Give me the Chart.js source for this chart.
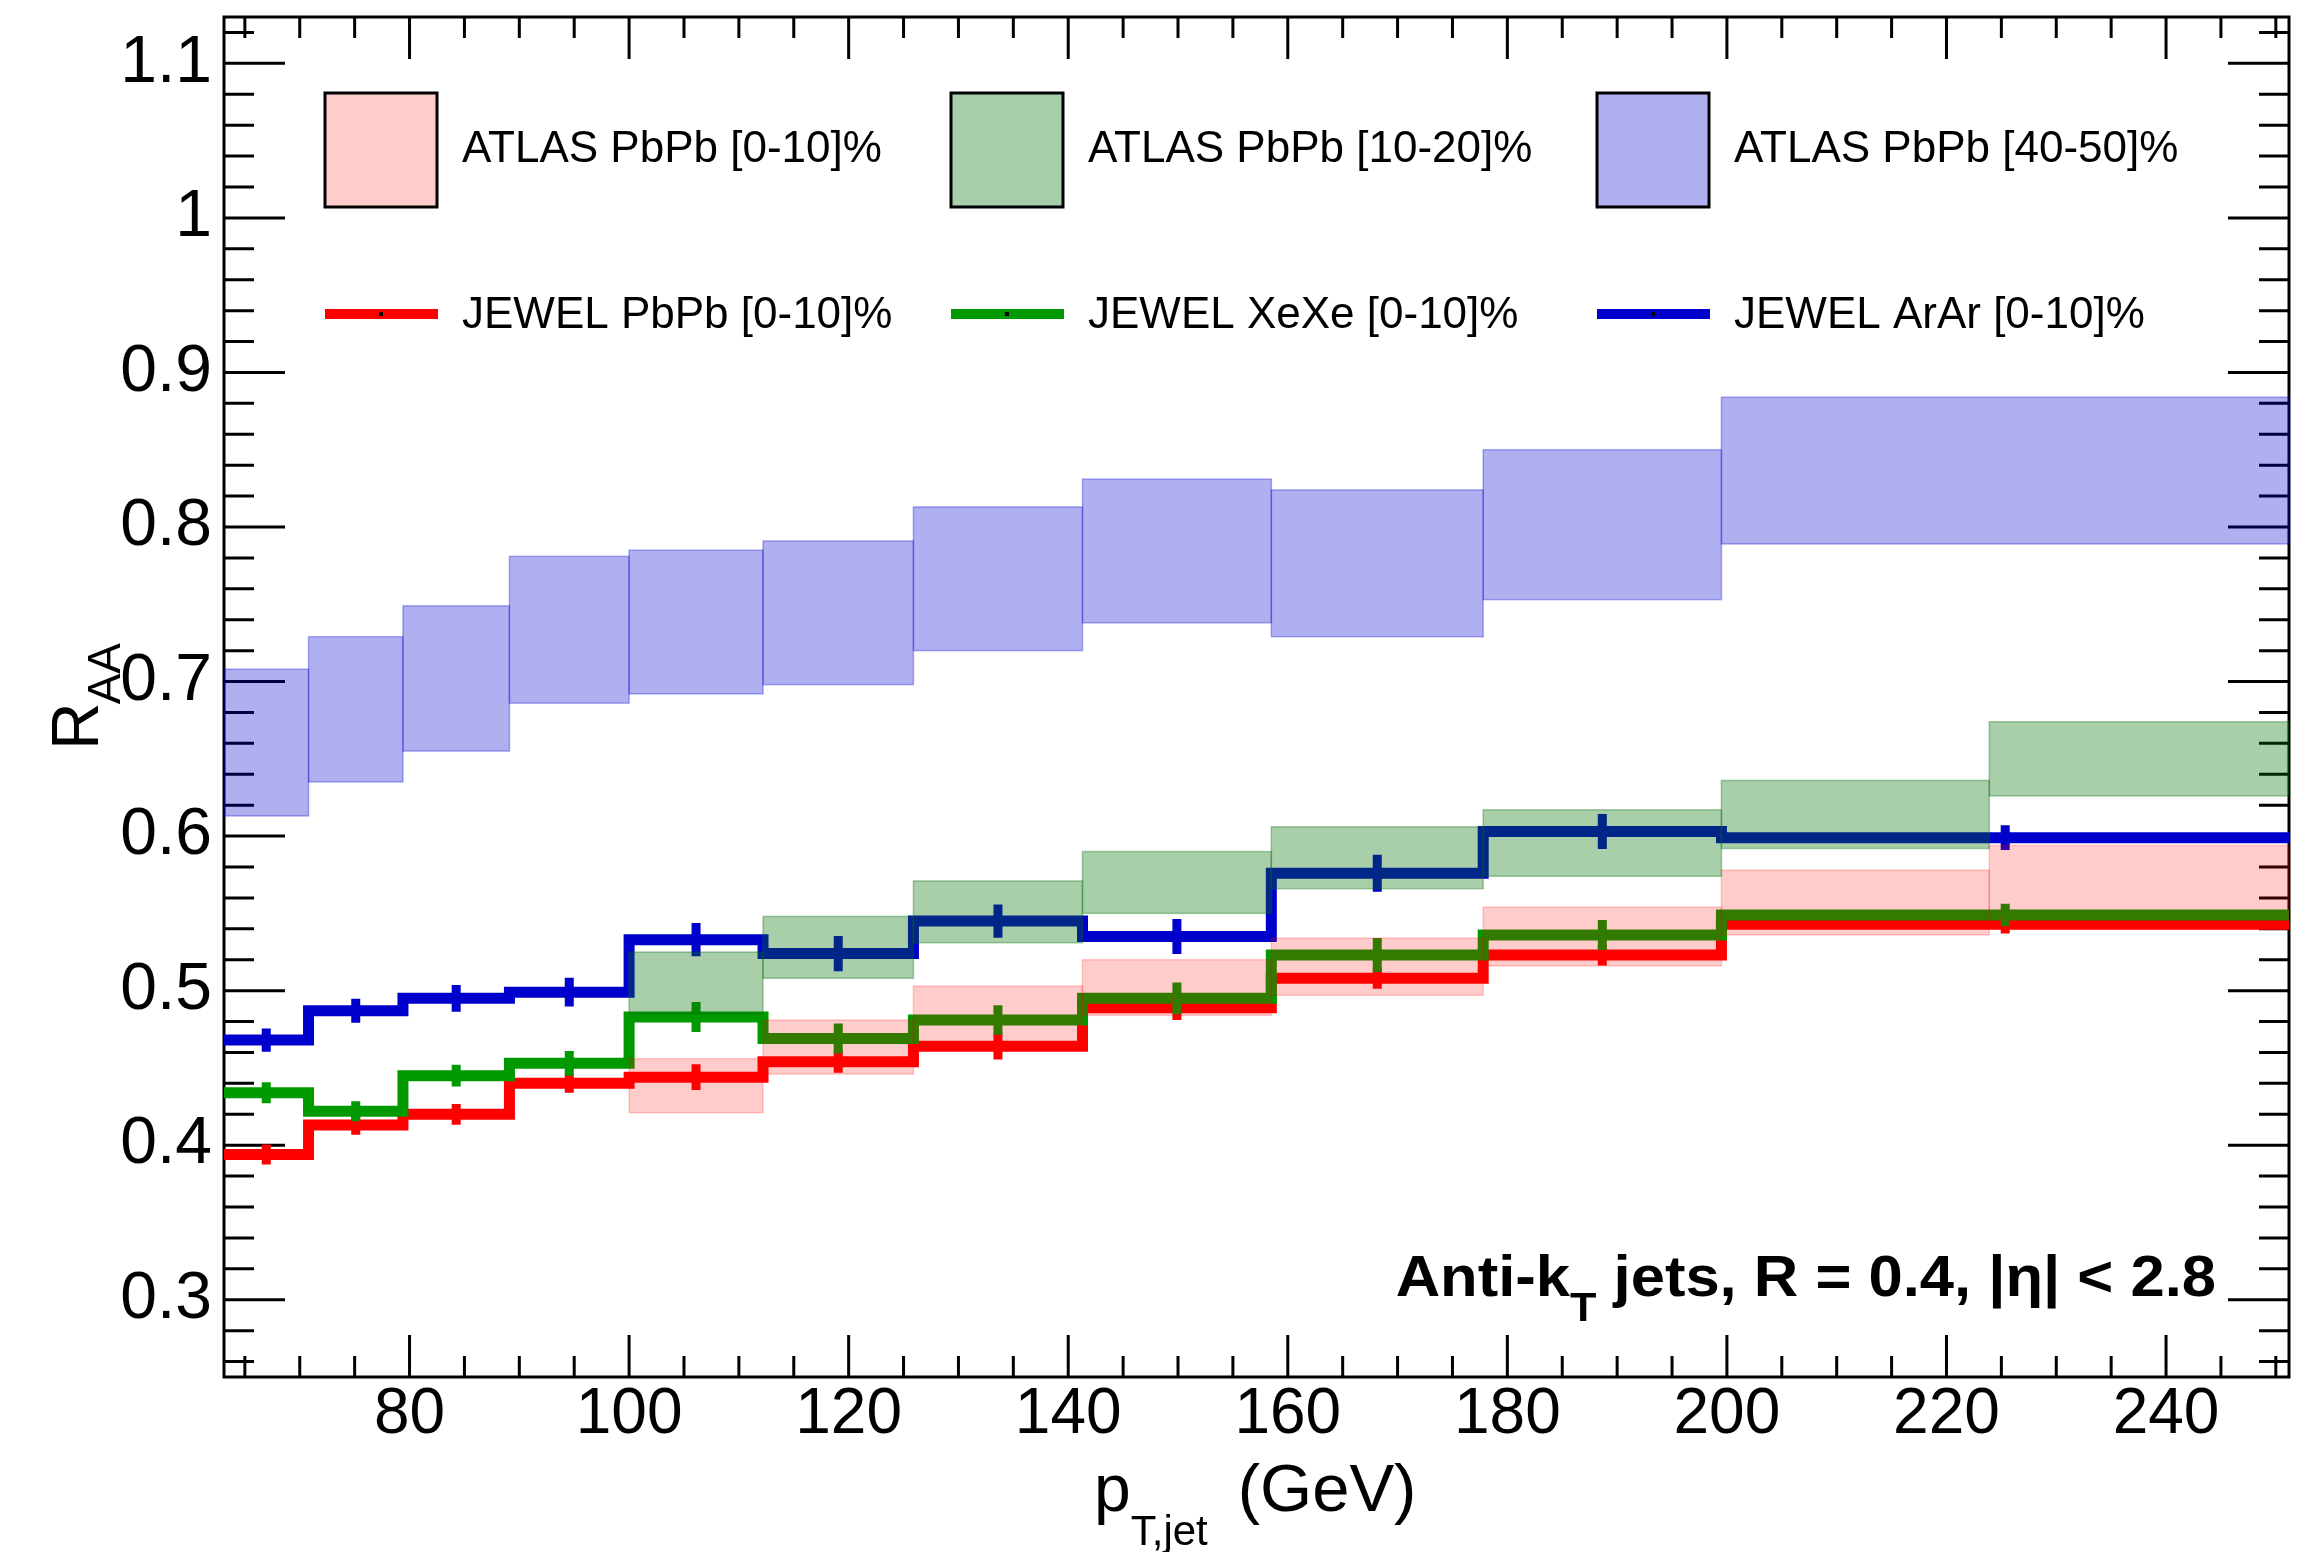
<!DOCTYPE html>
<html>
<head>
<meta charset="utf-8">
<script src="https://cdn.jsdelivr.net/npm/chart.js@4.4.1/dist/chart.umd.min.js"></script>
<style>
  html, body { margin: 0; padding: 0; background: #fff; }
  canvas { display: block; }
</style>
</head>
<body>
<canvas id="raa" width="2319" height="1552"></canvas>
<script>
// JEWEL bins in pT,jet (GeV), last bin is wide
const jewelEdges = [63.1, 70.8, 79.4, 89.1, 100, 112.2, 125.9, 141.3, 158.5, 177.8, 199.5, 251.2];
const jewelPbPb = [0.394, 0.413, 0.420, 0.440, 0.444, 0.454, 0.464, 0.489, 0.508, 0.523, 0.543];
const jewelPbPbErr = [0.0065, 0.0062, 0.0067, 0.0060, 0.0083, 0.0072, 0.0086, 0.0080, 0.0068, 0.0068, 0.0060];
const jewelXeXe = [0.434, 0.422, 0.445, 0.453, 0.483, 0.469, 0.481, 0.495, 0.523, 0.536, 0.549];
const jewelXeXeErr = [0.0068, 0.0065, 0.0071, 0.0080, 0.0097, 0.0097, 0.0095, 0.0102, 0.0110, 0.0097, 0.0073];
const jewelArAr = [0.468, 0.487, 0.495, 0.499, 0.533, 0.524, 0.545, 0.535, 0.576, 0.603, 0.599];
const jewelArArErr = [0.0075, 0.0077, 0.0087, 0.0093, 0.0108, 0.0114, 0.0108, 0.0113, 0.0120, 0.0113, 0.0080];

// ATLAS bands (low / high edge of each bin)
const atlas4050Edges = [63.1, 70.8, 79.4, 89.1, 100, 112.2, 125.9, 141.3, 158.5, 177.8, 199.5, 251.2];
const atlas4050Low  = [0.613, 0.635, 0.655, 0.686, 0.692, 0.698, 0.720, 0.738, 0.729, 0.753, 0.789];
const atlas4050High = [0.708, 0.729, 0.749, 0.781, 0.785, 0.791, 0.813, 0.831, 0.824, 0.850, 0.884];
const atlasEdges = [100, 112.2, 125.9, 141.3, 158.5, 177.8, 199.5, 223.9, 251.2];
const atlas010Low  = [0.421, 0.446, 0.463, 0.484, 0.497, 0.516, 0.536, 0.540];
const atlas010High = [0.456, 0.481, 0.503, 0.520, 0.534, 0.554, 0.578, 0.594];
const atlas1020Low  = [0.485, 0.508, 0.531, 0.550, 0.566, 0.574, 0.592, 0.626];
const atlas1020High = [0.525, 0.548, 0.571, 0.590, 0.606, 0.617, 0.636, 0.674];

const FONT = '"Liberation Sans", Arial, sans-serif';
const RED = '#ff0000', GREEN = '#009900', BLUE = '#0000cc';
const PINK_FILL = 'rgba(255,0,0,0.2)';
const GREEN_FILL = 'rgba(0,110,5,0.34)';
const BLUE_FILL = 'rgba(0,0,210,0.31)';

const bands = [
    { edges: atlas4050Edges, low: atlas4050Low, high: atlas4050High, color: BLUE_FILL },
    { edges: atlasEdges, low: atlas010Low, high: atlas010High, color: PINK_FILL },
    { edges: atlasEdges, low: atlas1020Low, high: atlas1020High, color: GREEN_FILL }
];
const jewel = [
    { label: 'JEWEL ArAr [0-10]%', vals: jewelArAr, errs: jewelArArErr, color: BLUE },
    { label: 'JEWEL XeXe [0-10]%', vals: jewelXeXe, errs: jewelXeXeErr, color: GREEN },
    { label: 'JEWEL PbPb [0-10]%', vals: jewelPbPb, errs: jewelPbPbErr, color: RED }
];

// histogram outline: one point per bin edge, stepped
const stepPoints = (edges, vals) => edges.map((e, i) => ({ x: e, y: vals[Math.min(i, vals.length - 1)] }));

// draws text pieces one after another (for subscripts), sx = horizontal stretch
function textRuns(ctx, x, y, parts, draw = true, sx = 1) {
    let cx = 0;
    ctx.save();
    ctx.translate(x, y);
    ctx.scale(sx, 1);
    for (const p of parts) {
        ctx.font = (p.bold ? 'bold ' : '') + p.size + 'px ' + FONT;
        if (draw) ctx.fillText(p.t, cx, p.dy || 0);
        cx += ctx.measureText(p.t).width + (p.gap || 0);
    }
    ctx.restore();
    return cx * sx;
}

// frame + ROOT style ticks on all four sides
const frameTicks = {
    id: 'frameTicks',
    beforeDatasetsDraw(chart) {
        const { ctx, chartArea: a, scales: { x, y } } = chart;
        ctx.save();
        ctx.strokeStyle = '#000';
        ctx.lineWidth = 3;
        ctx.beginPath();
        for (let k = 13; k * 5 <= x.max; k++) {
            const px = x.getPixelForValue(k * 5);
            const len = (k * 5) % 20 === 0 ? 42 : 21;
            ctx.moveTo(px, a.bottom); ctx.lineTo(px, a.bottom - len);
            ctx.moveTo(px, a.top); ctx.lineTo(px, a.top + len);
        }
        for (let k = 13; k <= 56; k++) {
            const py = y.getPixelForValue(k / 50);
            const len = k % 5 === 0 ? 61 : 30;
            ctx.moveTo(a.left, py); ctx.lineTo(a.left + len, py);
            ctx.moveTo(a.right, py); ctx.lineTo(a.right - len, py);
        }
        ctx.stroke();
        ctx.strokeRect(a.left, a.top, a.right - a.left, a.bottom - a.top);
        ctx.restore();
    }
};

// error bars of the JEWEL curves, then the ATLAS bands on top of them
const barsAndBands = {
    id: 'barsAndBands',
    afterDatasetsDraw(chart) {
        const { ctx, chartArea: a, scales: { x, y } } = chart;
        ctx.save();
        ctx.beginPath();
        ctx.rect(a.left, a.top, a.right - a.left, a.bottom - a.top);
        ctx.clip();
        ctx.lineWidth = 9;
        jewel.slice().reverse().forEach(s => {
            ctx.strokeStyle = s.color;
            ctx.beginPath();
            s.vals.forEach((v, i) => {
                const px = x.getPixelForValue((jewelEdges[i] + jewelEdges[i + 1]) / 2);
                ctx.moveTo(px, y.getPixelForValue(v - s.errs[i]));
                ctx.lineTo(px, y.getPixelForValue(v + s.errs[i]));
            });
            ctx.stroke();
        });
        bands.forEach(b => {
            ctx.fillStyle = b.color;
            ctx.strokeStyle = b.color;
            ctx.lineWidth = 1.5;
            b.low.forEach((lo, i) => {
                const x0 = x.getPixelForValue(b.edges[i]);
                const x1 = x.getPixelForValue(b.edges[i + 1]);
                const y0 = y.getPixelForValue(b.high[i]);
                const y1 = y.getPixelForValue(lo);
                ctx.fillRect(x0, y0, x1 - x0, y1 - y0);
                ctx.strokeRect(x0, y0, x1 - x0, y1 - y0);
            });
        });
        ctx.restore();
    }
};

// legend, axis titles and the jet label
const labels = {
    id: 'labels',
    afterDraw(chart) {
        const { ctx } = chart;
        ctx.save();
        ctx.fillStyle = '#000';
        ctx.textAlign = 'left';
        ctx.textBaseline = 'alphabetic';

        const cols = [325, 951, 1597];
        const boxLabels = ['ATLAS PbPb [0-10]%', 'ATLAS PbPb [10-20]%', 'ATLAS PbPb [40-50]%'];
        const boxFills = [PINK_FILL, GREEN_FILL, BLUE_FILL];
        const lineOrder = [2, 1, 0];
        cols.forEach((cx, i) => {
            ctx.fillStyle = '#fff';
            ctx.fillRect(cx, 93, 112, 114);
            ctx.fillStyle = boxFills[i];
            ctx.fillRect(cx, 93, 112, 114);
            ctx.strokeStyle = '#000';
            ctx.lineWidth = 3;
            ctx.strokeRect(cx, 93, 112, 114);
            ctx.fillStyle = '#000';
            ctx.font = '44px ' + FONT;
            ctx.fillText(boxLabels[i], cx + 137, 162);

            const s = jewel[lineOrder[i]];
            ctx.fillStyle = s.color;
            ctx.fillRect(cx, 309, 113, 10);
            ctx.fillStyle = '#000';
            ctx.fillRect(cx + 54, 312, 4, 4);
            ctx.fillText(s.label, cx + 137, 328);
        });

        // x title
        textRuns(ctx, 1094, 1511, [
            { t: 'p', size: 66 },
            { t: 'T,jet', size: 42, dy: 34, gap: 30 },
            { t: '(GeV)', size: 67 }
        ]);

        // y title, rotated
        ctx.save();
        ctx.translate(98, 750);
        ctx.rotate(-Math.PI / 2);
        textRuns(ctx, 0, 0, [
            { t: 'R', size: 66, gap: -2 },
            { t: 'AA', size: 46, dy: 22 }
        ]);
        ctx.restore();

        // jet definition, right aligned
        const jetParts = [
            { t: 'Anti-k', size: 57, bold: true },
            { t: 'T', size: 40, bold: true, dy: 25 },
            { t: ' jets, R = 0.4, |\u03b7| < 2.8', size: 57, bold: true }
        ];
        const w = textRuns(ctx, 0, 0, jetParts, false, 1.08);
        textRuns(ctx, 2216 - w, 1296, jetParts, true, 1.08);
        ctx.restore();
    }
};

new Chart(document.getElementById('raa'), {
    type: 'line',
    data: {
        datasets: jewel.map(s => ({
            label: s.label,
            data: stepPoints(jewelEdges, s.vals),
            borderColor: s.color,
            backgroundColor: s.color,
            borderWidth: 11,
            stepped: true,
            pointRadius: 0,
            fill: false,
            borderJoinStyle: 'miter',
            borderCapStyle: 'butt'
        }))
    },
    options: {
        responsive: false,
        animation: false,
        layout: { padding: { top: 17, right: 30, left: 0, bottom: 0 } },
        plugins: { legend: { display: false }, tooltip: { enabled: false } },
        scales: {
            x: {
                type: 'linear',
                min: 63.1,
                max: 251.2,
                afterFit(s) { s.height = 175; s.paddingLeft = 0; s.paddingRight = 0; },
                grid: { display: false, drawTicks: false },
                border: { display: false },
                ticks: {
                    stepSize: 20, includeBounds: false, autoSkip: false, maxRotation: 0,
                    padding: 0, color: '#000', font: { family: FONT, size: 64 }
                }
            },
            y: {
                type: 'linear',
                min: 0.25,
                max: 1.13,
                afterFit(s) { s.width = 224; s.paddingTop = 0; s.paddingBottom = 0; },
                grid: { display: false, drawTicks: false },
                border: { display: false },
                ticks: {
                    stepSize: 0.1, includeBounds: false, autoSkip: false,
                    padding: 12, color: '#000', font: { family: FONT, size: 66 },
                    callback: v => String(+v.toFixed(1))
                }
            }
        }
    },
    plugins: [frameTicks, barsAndBands, labels]
});
</script>
</body>
</html>
